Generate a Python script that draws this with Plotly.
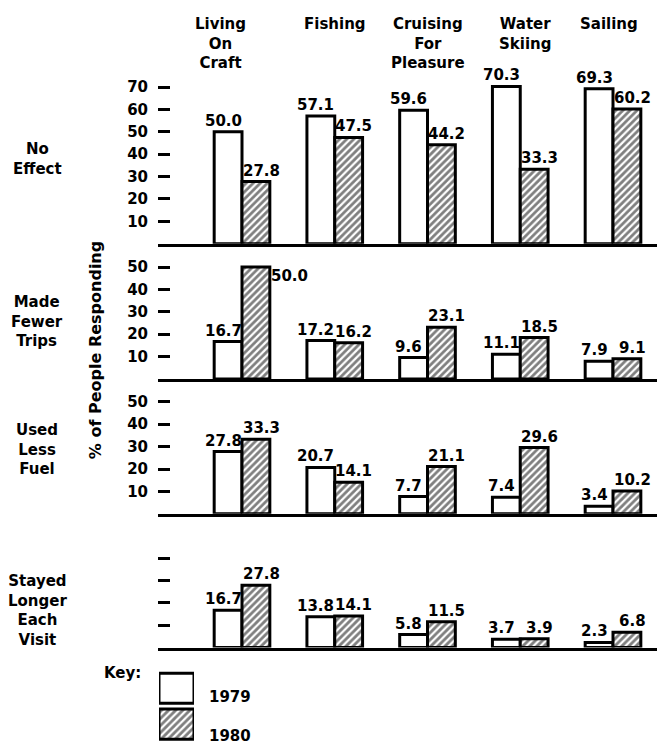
import plotly.graph_objects as go

# ---------------- data ----------------
categories = ["Living On Craft", "Fishing", "Cruising For Pleasure", "Water Skiing", "Sailing"]
category_labels = ["Living<br>On<br>Craft", "Fishing", "Cruising<br>For<br>Pleasure",
                   "Water<br>Skiing", "Sailing"]
row_labels = ["No<br>Effect", "Made<br>Fewer<br>Trips", "Used<br>Less<br>Fuel",
              "Stayed<br>Longer<br>Each<br>Visit"]
years = ["1979", "1980"]

no_effect_1979 = [50.0, 57.1, 59.6, 70.3, 69.3]
no_effect_1980 = [27.8, 47.5, 44.2, 33.3, 60.2]
fewer_trips_1979 = [16.7, 17.2, 9.6, 11.1, 7.9]
fewer_trips_1980 = [50.0, 16.2, 23.1, 18.5, 9.1]
less_fuel_1979 = [27.8, 20.7, 7.7, 7.4, 3.4]
less_fuel_1980 = [33.3, 14.1, 21.1, 29.6, 10.2]
stayed_longer_1979 = [16.7, 13.8, 5.8, 3.7, 2.3]
stayed_longer_1980 = [27.8, 14.1, 11.5, 3.9, 6.8]

tick_values = [[10, 20, 30, 40, 50, 60, 70],
               [10, 20, 30, 40, 50],
               [10, 20, 30, 40, 50],
               [10, 20, 30, 40]]
tick_labels = [["10", "20", "30", "40", "50", "60", "70"],
               ["10", "20", "30", "40", "50"],
               ["10", "20", "30", "40", "50"],
               ["", "", "", ""]]
y_title = "% of People Responding"
key_title = "Key:"

series = [(no_effect_1979, no_effect_1980),
          (fewer_trips_1979, fewer_trips_1980),
          (less_fuel_1979, less_fuel_1980),
          (stayed_longer_1979, stayed_longer_1980)]

# ---------------- layout geometry (pixels of the 665x745 window) ----------------
PAGE_MARGIN = 8            # default <body> margin of the html page
WIN_W, WIN_H = 665, 745
W, H = WIN_W - PAGE_MARGIN, WIN_H - PAGE_MARGIN

def px_x(p):
    return (p - PAGE_MARGIN) / W

def px_y(p):
    return 1 - (p - PAGE_MARGIN) / H

X_LEFT, X_RIGHT = 158, 658
CENTER0, SPACING = 242, 92.75
x_range = [(X_LEFT - CENTER0) / SPACING, (X_RIGHT - CENTER0) / SPACING]
PX_PER_UNIT = 2.25
panel_zero_px = [241, 377, 512.5, 647]
panel_ymax = [73, 52, 52, 43]
row_label_y_px = [155.5, 319, 448, 610]
cat_label_shift = [-22, 0, 0, 5, -4]

FONT = "DejaVu Sans"
BLACK = "black"
LINE_W = 3
hatch = dict(shape="/", fgcolor=BLACK, bgcolor="white", size=5, solidity=0.55)

def tfont(size=15):
    return dict(family=FONT, size=size, color=BLACK, weight="bold")

fig = go.Figure()
layout = dict(
    width=W, height=H,
    margin=dict(l=0, r=0, t=0, b=0),
    paper_bgcolor="white", plot_bgcolor="white",
    barmode="group", bargap=0.4, bargroupgap=0,
    showlegend=False,
    font=tfont(),
)
annotations = []

for i, (v79, v80) in enumerate(series):
    n = i + 1
    xa = "x" if n == 1 else f"x{n}"
    ya = "y" if n == 1 else f"y{n}"
    fig.add_trace(go.Bar(x=categories, y=v79, name=years[0], xaxis=xa, yaxis=ya,
                         marker=dict(color="white", line=dict(color=BLACK, width=LINE_W)),
                         hoverinfo="skip", cliponaxis=False))
    fig.add_trace(go.Bar(x=categories, y=v80, name=years[1], xaxis=xa, yaxis=ya,
                         marker=dict(color="white", pattern=hatch,
                                     line=dict(color=BLACK, width=LINE_W)),
                         hoverinfo="skip", cliponaxis=False))
    zero = panel_zero_px[i]
    top = zero - panel_ymax[i] * PX_PER_UNIT
    layout[f"xaxis{'' if n == 1 else n}"] = dict(
        domain=[px_x(X_LEFT), px_x(X_RIGHT)], anchor=ya, type="category",
        range=x_range, showline=True, linewidth=3, linecolor=BLACK,
        showticklabels=False, ticks="", showgrid=False, zeroline=False, fixedrange=True)
    layout[f"yaxis{'' if n == 1 else n}"] = dict(
        domain=[px_y(zero), px_y(top)], anchor=xa, range=[0, panel_ymax[i]],
        tickmode="array", tickvals=tick_values[i], ticktext=tick_labels[i],
        ticks="inside", ticklen=12, tickwidth=3, tickcolor=BLACK,
        ticklabelstandoff=9, showline=False, showgrid=False, zeroline=False,
        tickfont=tfont(), fixedrange=True)

    # value labels
    for j, cat in enumerate(categories):
        for k, vals in enumerate((v79, v80)):
            xs = -19 if k == 0 else 19
            ys = 11
            if i == 1 and j == 0 and k == 1:
                xs, ys = 47, -9
            annotations.append(dict(
                xref=xa, yref=ya, x=cat, y=vals[j], text=f"{vals[j]:.1f}",
                showarrow=False, xanchor="center", yanchor="middle",
                xshift=xs, yshift=ys, font=tfont()))

    # row label
    annotations.append(dict(
        xref="paper", yref="paper", x=px_x(37), y=px_y(row_label_y_px[i]),
        text=row_labels[i], showarrow=False, xanchor="center", yanchor="middle",
        align="center", font=tfont()))

# category labels on top
for j, cat in enumerate(categories):
    annotations.append(dict(
        xref="x", yref="paper", x=cat, y=px_y(9), text=category_labels[j],
        showarrow=False, xanchor="center", yanchor="top", align="center",
        xshift=cat_label_shift[j], font=tfont()))

# y title
annotations.append(dict(
    xref="paper", yref="paper", x=px_x(95), y=px_y(348), text=y_title,
    textangle=-90, showarrow=False, xanchor="center", yanchor="middle", font=tfont(16)))

# key
fig.add_trace(go.Bar(x=[1], y=[years[0]], orientation="h", xaxis="x5", yaxis="y5",
                     width=0.84, offsetgroup="key", cliponaxis=False, hoverinfo="skip",
                     marker=dict(color="white", line=dict(color=BLACK, width=3))))
fig.add_trace(go.Bar(x=[1], y=[years[1]], orientation="h", xaxis="x5", yaxis="y5",
                     width=0.84, offsetgroup="key", cliponaxis=False, hoverinfo="skip",
                     marker=dict(color="white", pattern=hatch, line=dict(color=BLACK, width=3))))
layout["xaxis5"] = dict(domain=[px_x(159), px_x(194)], anchor="y5", range=[0, 1],
                        visible=False, fixedrange=True)
layout["yaxis5"] = dict(domain=[px_y(742), px_y(670)], anchor="x5", type="category",
                        categoryorder="array", categoryarray=[years[1], years[0]],
                        range=[-0.5, 1.5], visible=False, fixedrange=True)
annotations.append(dict(xref="paper", yref="paper", x=px_x(143), y=px_y(673),
                        text=key_title, showarrow=False, xanchor="right", yanchor="middle",
                        font=tfont()))
for yr, ypx in zip(years, [697, 736]):
    annotations.append(dict(xref="paper", yref="paper", x=px_x(207), y=px_y(ypx),
                            text=yr, showarrow=False, xanchor="left", yanchor="middle",
                            font=tfont()))

layout["annotations"] = annotations
fig.update_layout(**layout)
fig.write_html("out.html")
